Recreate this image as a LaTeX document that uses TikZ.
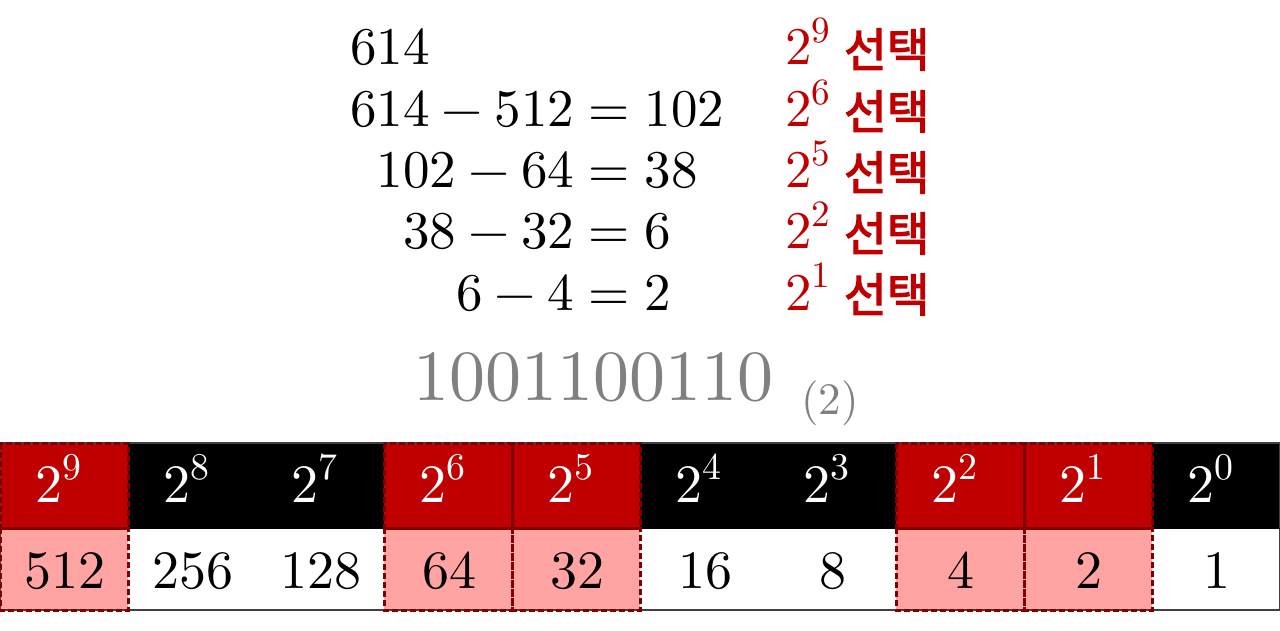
\documentclass[tikz,border=0pt]{standalone}
\usepackage{fontspec}
\usepackage{graphicx}
\setmainfont{lmroman10-regular.otf}
\newfontfamily\kr{Noto Sans CJK KR}[FakeBold=2.6]
\definecolor{selred}{HTML}{C00000}
\definecolor{selpink}{HTML}{FFA3A3}
\definecolor{dashred}{HTML}{7F0000}
\definecolor{bingray}{HTML}{808080}
\newcommand\mminus{\kern0.22em−\kern0.22em}
\newcommand\meq{\kern0.28em=\kern0.28em}
\newcommand\spow[1]{\raisebox{0.42em}{\scalebox{0.7}{#1}}}
\begin{document}
\begin{tikzpicture}[x=1pt,y=-1pt,
  eqtext/.style={inner sep=0pt,outer sep=0pt,font=\fontsize{53}{60}\selectfont},
  lbltext/.style={inner sep=0pt,outer sep=0pt,text=selred,font=\fontsize{53}{60}\selectfont,anchor=base west},
  krtext/.style={inner sep=0pt,outer sep=0pt,text=selred,font=\kr\fontsize{46.5}{50}\selectfont,anchor=base west},
  hcell/.style={fill=black,minimum width=128pt,minimum height=85pt,inner sep=0pt,outer sep=0pt,anchor=north west},
  vcell/.style={fill=white,minimum width=128pt,minimum height=82pt,inner sep=0pt,outer sep=0pt,anchor=north west},
  hsel/.style={hcell,fill=selred},
  vsel/.style={vcell,fill=selpink},
  selborder/.style={draw=dashred,line width=3pt,dash pattern=on 6pt off 3pt},
  htext/.style={inner sep=0pt,text=white,anchor=base,font=\fontsize{54}{60}\selectfont},
  vtext/.style={inner sep=0pt,text=black,anchor=base,font=\fontsize{54}{60}\selectfont}]
\useasboundingbox (0,0) rectangle (1280,631);

% equations (aligned at the equals sign)
\node[eqtext,anchor=base east] (l2) at (574,127) {614\mminus512};
\node[eqtext,anchor=base west] (r2) at (574,127) {\meq102};
\node[eqtext,anchor=base west] (l1) at ([yshift=62pt]l2.base west) {614};
\node[eqtext,anchor=base east] (l3) at (574,188) {102\mminus64};
\node[eqtext,anchor=base west] (r3) at (574,188) {\meq38};
\node[eqtext,anchor=base east] (l4) at (574,249) {38\mminus32};
\node[eqtext,anchor=base west] (r4) at (574,249) {\meq6};
\node[eqtext,anchor=base east] (l5) at (574,310) {6\mminus4};
\node[eqtext,anchor=base west] (r5) at (574,310) {\meq2};

% selection labels
\foreach \k/\e/\y in {1/9/65,2/6/127,3/5/188,4/2/249,5/1/310}{
  \node[lbltext] (p\k) at (785,\y) {2\spow{\e}};
  \node[krtext] (s\k) at (844,\y+2) {선택};
}

% binary result
\node[inner sep=0pt,anchor=base west,text=bingray,font=\fontsize{72}{80}\selectfont] (bin) at (413,400) {1001100110};
\node[inner sep=0pt,anchor=base west,text=bingray,font=\fontsize{45}{50}\selectfont] (base) at (801,414) {(2)};

% table cells
\foreach \i in {0,...,9}{
  \node[hcell] (h\i) at (\i*128,443) {};
  \node[vcell] (v\i) at (\i*128,528) {};
}
\foreach \i in {0,3,4,7,8}{
  \node[hsel] (hs\i) at (\i*128,443) {};
  \node[vsel] (vs\i) at (\i*128,528) {};
}
\draw[black!75,line width=1.2pt] (h0.north west) rectangle (v9.south east);
\draw[black,line width=1pt] (h0.south west) -- (h9.south east);
\foreach \i in {0,3,4,7,8}{
  \draw[selborder] (hs\i.north west) rectangle (hs\i.south east);
  \draw[selborder] (vs\i.north west) rectangle (vs\i.south east);
}

% table texts
\foreach \i/\e/\v in {0/9/512,1/8/256,2/7/128,3/6/64,4/5/32,5/4/16,6/3/8,7/2/4,8/1/2,9/0/1}{
  \node[htext] (ht\i) at (\i*128+58,502) {2\spow{\e}};
  \node[vtext] (vt\i) at (\i*128+65,588) {\v};
}
\end{tikzpicture}
\end{document}
